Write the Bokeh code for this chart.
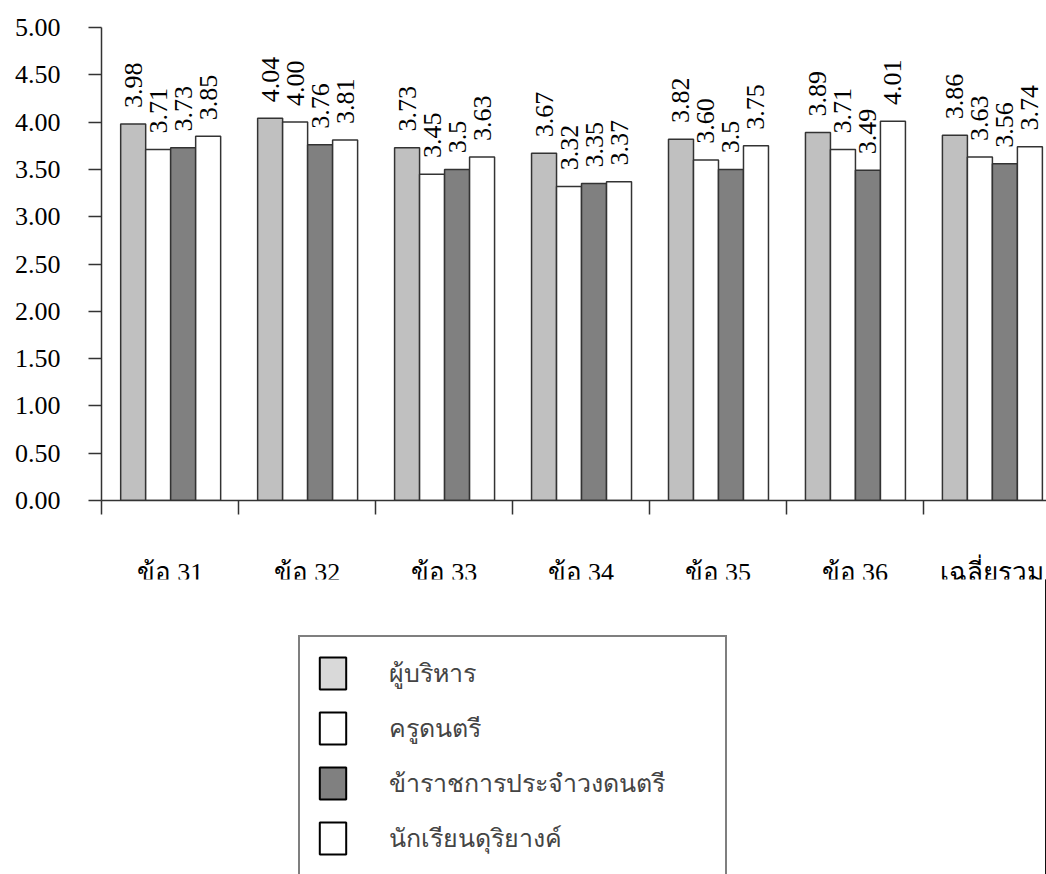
import math
from bokeh.plotting import figure
from bokeh.models import (Range1d, FixedTicker, PrintfTickFormatter, CustomJSTickFormatter,
                          Legend, LegendItem)
from bokeh.layouts import column
from bokeh.core.properties import value
from bokeh.embed import file_html
from bokeh.resources import INLINE

# ---------------- data ----------------
categories = ["ข้อ 31", "ข้อ 32", "ข้อ 33", "ข้อ 34", "ข้อ 35", "ข้อ 36", "เฉลี่ยรวม"]
series_names = ["ผู้บริหาร", "ครูดนตรี", "ข้าราชการประจำวงดนตรี", "นักเรียนดุริยางค์"]
admin = [3.98, 4.04, 3.73, 3.67, 3.82, 3.89, 3.86]
teacher = [3.71, 4.00, 3.45, 3.32, 3.60, 3.71, 3.63]
officer = [3.73, 3.76, 3.50, 3.35, 3.50, 3.49, 3.56]
student = [3.85, 3.81, 3.63, 3.37, 3.75, 4.01, 3.74]
admin_labels = ["3.98", "4.04", "3.73", "3.67", "3.82", "3.89", "3.86"]
teacher_labels = ["3.71", "4.00", "3.45", "3.32", "3.60", "3.71", "3.63"]
officer_labels = ["3.73", "3.76", "3.5", "3.35", "3.5", "3.49", "3.56"]
student_labels = ["3.85", "3.81", "3.63", "3.37", "3.75", "4.01", "3.74"]
y_ticks = [0.0, 0.5, 1.0, 1.5, 2.0, 2.5, 3.0, 3.5, 4.0, 4.5, 5.0]

bar_colors = ["#C0C0C0", "#FFFFFF", "#808080", "#FFFFFF"]
legend_colors = ["#D9D9D9", "#FFFFFF", "#808080", "#FFFFFF"]
SERIF = "Liberation Serif"
LINE = "#333333"
LABEL_PAD = 0.17      # gap between a bar top and its value label (in value units)

n = len(categories)
MAIN_H = 595
CLIP_Y = 579          # the category labels are cut off here, as in the reference
p = figure(width=1046, height=MAIN_H, x_range=Range1d(0, 6.9), y_range=Range1d(0, 5),
           output_backend="svg", toolbar_location=None,
           min_border_left=101, min_border_top=27, min_border_bottom=MAIN_H - 500,
           min_border_right=0)
p.grid.visible = False
p.outline_line_color = None
p.background_fill_color = "white"
p.border_fill_color = "white"

# y axis
p.yaxis.ticker = FixedTicker(ticks=y_ticks, minor_ticks=[])
p.yaxis.formatter = PrintfTickFormatter(format="%.2f")
p.yaxis.major_label_text_font = SERIF
p.yaxis.major_label_text_font_size = "26px"
p.yaxis.major_label_text_color = "black"
p.yaxis.major_tick_out = 13
p.yaxis.major_tick_in = 0
p.yaxis.major_label_standoff = 28
p.yaxis.axis_line_color = LINE
p.yaxis.axis_line_width = 1.5
p.yaxis.major_tick_line_color = LINE
p.yaxis.major_tick_line_width = 1.5

# x axis: labels at category centres, tick marks at category boundaries
p.xaxis.ticker = FixedTicker(ticks=[i + 0.5 for i in range(n)],
                             minor_ticks=list(range(n + 1)))
p.xaxis.formatter = CustomJSTickFormatter(args=dict(cats=categories),
                                          code="return cats[Math.floor(tick)]")
p.xaxis.major_tick_out = 0
p.xaxis.major_tick_in = 0
p.xaxis.minor_tick_out = 14
p.xaxis.minor_tick_in = 0
p.xaxis.minor_tick_line_color = LINE
p.xaxis.minor_tick_line_width = 1.5
p.xaxis.axis_line_color = LINE
p.xaxis.axis_line_width = 1.5
p.xaxis.major_label_standoff = 43
p.xaxis.major_label_text_font = SERIF
p.xaxis.major_label_text_font_size = "26px"
p.xaxis.major_label_text_color = "black"

bw = 0.1825
all_vals = [admin, teacher, officer, student]
all_labels = [admin_labels, teacher_labels, officer_labels, student_labels]
for k, (vals, labs, col) in enumerate(zip(all_vals, all_labels, bar_colors)):
    xs = [i + 0.505 + (k - 1.5) * bw for i in range(n)]
    p.vbar(x=xs, top=vals, width=bw, fill_color=col, line_color=LINE, line_width=1.5)
    p.text(x=xs, y=[v + LABEL_PAD for v in vals], text=labs, angle=math.pi / 2,
           text_align="left", text_baseline="middle", text_font=value(SERIF),
           text_font_size="26px", text_color="black")

# ---------------- legend ----------------
LEG_H = 874 - CLIP_Y
p2 = figure(width=1046, height=LEG_H, x_range=Range1d(0, 1), y_range=Range1d(0, 1),
            output_backend="svg", toolbar_location=None, min_border=0,
            margin=(CLIP_Y - MAIN_H, 0, 0, 0))
p2.axis.visible = False
p2.grid.visible = False
p2.outline_line_color = None
p2.border_fill_color = "white"
p2.background_fill_color = "white"
items = []
for name, col in zip(series_names, legend_colors):
    # dummy renderer (outside the visible range) only to carry the legend swatch style
    r = p2.vbar(x=[5], top=[1], width=0.1, fill_color=col, line_color="black", line_width=2)
    items.append(LegendItem(label=name, renderers=[r]))
legend = Legend(items=items, location=(298 - 101, LEG_H - (639 - CLIP_Y) - 237),
                glyph_width=33, glyph_height=40,
                spacing=15, padding=16, margin=0, label_standoff=40, label_width=320,
                label_text_font=SERIF, label_text_font_size="25px",
                border_line_color="black", border_line_width=2,
                background_fill_color="white", background_fill_alpha=1.0)
p2.add_layout(legend, "center")

layout = column(p, p2)
open("out.html", "w").write(file_html(layout, INLINE))
